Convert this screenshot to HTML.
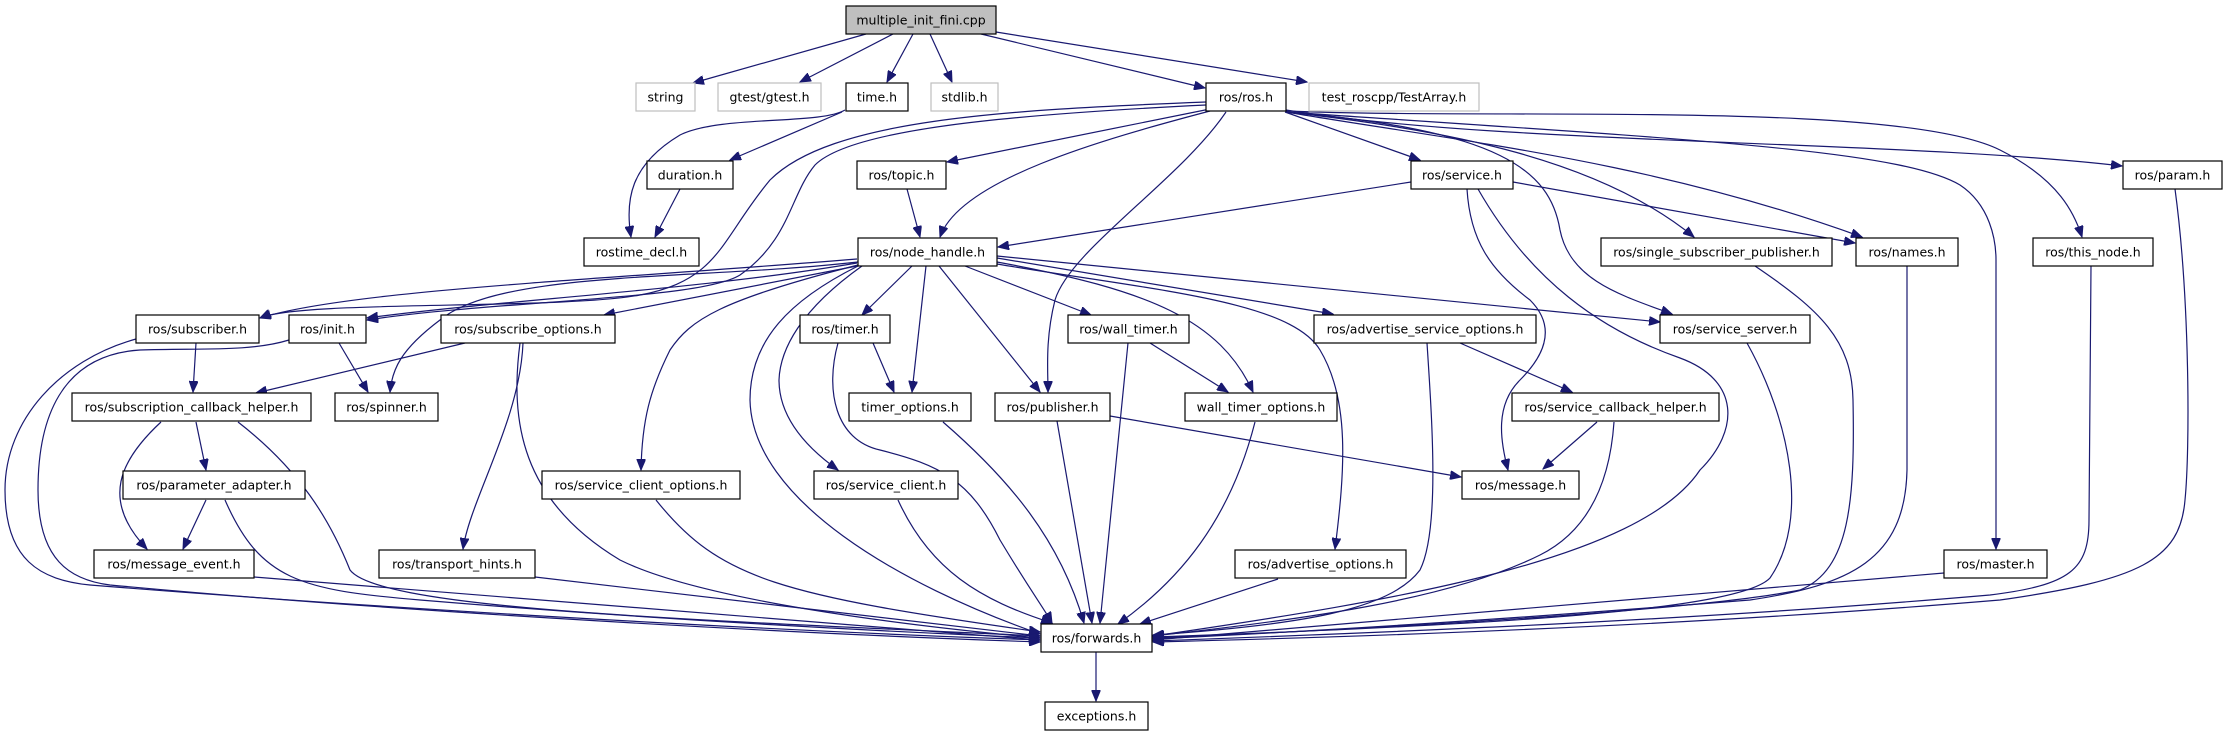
<!DOCTYPE html>
<html><head><meta charset="utf-8"><style>
html,body{margin:0;padding:0;background:#fff;width:2228px;height:736px;overflow:hidden}
svg text{font-family:"DejaVu Sans","Liberation Sans",sans-serif;font-size:12.5px;fill:#000;text-anchor:middle}
.e{fill:none;stroke:#191970;stroke-width:1.2;marker-end:url(#a)}
.n{fill:#fff;stroke:#000;stroke-width:1.2}
.g{fill:#fff;stroke:#bfbfbf;stroke-width:1.2}
</style></head><body>
<svg width="2228" height="736" viewBox="0 0 2228 736" xmlns="http://www.w3.org/2000/svg">
<defs><marker id="a" markerUnits="userSpaceOnUse" markerWidth="12" markerHeight="9" refX="11" refY="4.5" orient="auto"><path d="M0,0 L11,4.5 L0,9 z" fill="#191970" stroke="#191970"/></marker></defs>
<g>
<path class="e" d="M866,34 L693,83"/>
<path class="e" d="M893,34 L800,82"/>
<path class="e" d="M913,34 L887,82"/>
<path class="e" d="M930,34 L952,82"/>
<path class="e" d="M981,34 L1205,88"/>
<path class="e" d="M996,32 L1307,82"/>
<path class="e" d="M845,110 C820,125 720,115 680,135 C630,165 625,200 631,237"/>
<path class="e" d="M842,112 L730,160"/>
<path class="e" d="M680,189 L655,237"/>
<path class="e" d="M1210,109 L947,162"/>
<path class="e" d="M1210,111 C1100,140 960,180 940,237"/>
<path class="e" d="M1411,182 L998,247"/>
<path class="e" d="M907,189 L920,237"/>
<path class="e" d="M1206,102 C1000,110 830,120 770,180 C720,240 720,280 640,295 C560,310 300,300 260,318"/>
<path class="e" d="M1206,105 C1000,115 850,130 815,165 C790,195 790,240 740,275 C700,300 500,300 367,320"/>
<path class="e" d="M1226,112 C1180,180 1070,250 1055,300 C1045,340 1048,370 1048,392"/>
<path class="e" d="M1285,112 L1420,160"/>
<path class="e" d="M1286,110 C1500,145 1900,140 2122,166"/>
<path class="e" d="M1286,111 C1500,120 1900,100 2000,150 C2060,180 2075,215 2082,237"/>
<path class="e" d="M1286,112 C1700,140 1900,150 1960,185 C1990,205 1996,240 1996,260 L1996,549"/>
<path class="e" d="M1286,112 C1450,140 1650,160 1862,237"/>
<path class="e" d="M1286,112 C1450,130 1600,160 1694,237"/>
<path class="e" d="M1286,112 C1500,130 1550,170 1560,230 C1570,280 1620,295 1672,314"/>
<path class="e" d="M1513,182 L1855,243"/>
<path class="e" d="M1467,189 C1470,240 1490,270 1530,300 C1560,330 1540,360 1520,380 C1495,405 1500,440 1508,470"/>
<path class="e" d="M1478,189 C1530,280 1600,330 1680,358 C1740,380 1740,430 1700,470 C1640,560 1400,600 1153,636"/>
<path class="e" d="M912,266 L862,315"/>
<path class="e" d="M926,266 L912,392"/>
<path class="e" d="M939,266 L1040,392"/>
<path class="e" d="M965,266 L1091,315"/>
<path class="e" d="M997,262 C1150,290 1220,320 1253,392"/>
<path class="e" d="M997,264 C1150,290 1290,300 1320,350 C1350,400 1345,470 1335,549"/>
<path class="e" d="M997,258 L1333,314"/>
<path class="e" d="M997,256 L1660,322"/>
<path class="e" d="M858,265 C720,300 690,320 670,350 C650,390 642,420 641,470"/>
<path class="e" d="M858,266 C790,300 750,340 750,400 C752,500 900,585 1040,634"/>
<path class="e" d="M862,266 C800,310 780,350 779,380 C779,420 810,450 838,470"/>
<path class="e" d="M838,343 C825,390 835,440 880,450 C940,465 970,480 1000,540 C1030,590 1045,610 1052,623"/>
<path class="e" d="M873,343 L894,392"/>
<path class="e" d="M523,343 C520,420 470,500 463,549"/>
<path class="e" d="M520,343 C510,420 520,500 620,560 C700,600 900,625 1040,638"/>
<path class="e" d="M858,262 C700,280 500,270 440,320 C400,350 392,370 390,392"/>
<path class="e" d="M339,343 L368,392"/>
<path class="e" d="M857,259 C600,280 350,290 260,318"/>
<path class="e" d="M857,263 C700,290 500,300 367,318"/>
<path class="e" d="M857,266 L604,315"/>
<path class="e" d="M196,343 L193,392"/>
<path class="e" d="M465,343 L256,393"/>
<path class="e" d="M136,339 C60,360 5,420 5,490 C5,560 40,580 90,585 C400,610 800,632 1040,640"/>
<path class="e" d="M289,340 C250,352 200,348 140,350 C60,355 38,420 38,490 C38,560 70,580 110,585 C400,612 800,634 1040,642"/>
<path class="e" d="M196,422 L206,470"/>
<path class="e" d="M161,422 C120,460 100,500 147,549"/>
<path class="e" d="M238,422 C300,470 330,520 350,570 C380,610 700,620 1040,636"/>
<path class="e" d="M206,500 L183,549"/>
<path class="e" d="M225,500 C260,580 300,590 420,600 C600,615 800,628 1040,638"/>
<path class="e" d="M254,577 L1040,640"/>
<path class="e" d="M535,577 L1040,636"/>
<path class="e" d="M656,500 C720,580 780,595 1040,632"/>
<path class="e" d="M898,500 C930,570 980,600 1052,623"/>
<path class="e" d="M943,422 C1010,480 1060,540 1084,623"/>
<path class="e" d="M1057,421 L1092,623"/>
<path class="e" d="M1110,416 L1461,477"/>
<path class="e" d="M1128,343 L1100,623"/>
<path class="e" d="M1150,343 L1228,392"/>
<path class="e" d="M1255,422 C1230,520 1180,580 1118,624"/>
<path class="e" d="M1460,343 L1572,392"/>
<path class="e" d="M1427,343 C1432,420 1440,530 1420,570 C1390,610 1300,625 1153,635"/>
<path class="e" d="M1597,422 L1543,469"/>
<path class="e" d="M1614,422 C1610,480 1590,530 1540,555 C1450,600 1300,620 1153,636"/>
<path class="e" d="M1278,579 L1140,624"/>
<path class="e" d="M1747,343 C1790,420 1810,520 1770,578 C1740,610 1500,625 1153,637"/>
<path class="e" d="M1755,266 C1820,310 1852,340 1853,400 C1855,500 1850,570 1800,590 C1700,610 1400,628 1153,638"/>
<path class="e" d="M1907,266 L1907,470 C1905,560 1850,585 1750,600 C1500,620 1300,632 1153,639"/>
<path class="e" d="M1944,573 L1153,640"/>
<path class="e" d="M2091,266 L2089,520 C2089,570 2070,585 1990,595 C1700,620 1400,632 1153,641"/>
<path class="e" d="M2175,189 C2190,300 2190,450 2185,500 C2180,560 2140,580 2000,600 C1700,625 1400,636 1153,642"/>
<path class="e" d="M1096,652 L1096,701"/>
</g>
<g>
<rect x="846" y="6" width="150" height="28" fill="#bfbfbf" stroke="#000" stroke-width="1.2"/><text x="921" y="24.5">multiple_init_fini.cpp</text>
<rect class="g" x="636" y="83" width="59" height="28"/><text x="665.5" y="101.5">string</text>
<rect class="g" x="718" y="83" width="103" height="28"/><text x="769.5" y="101.5">gtest/gtest.h</text>
<rect class="n" x="846" y="83" width="62" height="28"/><text x="877" y="101.5">time.h</text>
<rect class="g" x="931" y="83" width="67" height="28"/><text x="964.5" y="101.5">stdlib.h</text>
<rect class="n" x="1206" y="83" width="80" height="28"/><text x="1246" y="101.5">ros/ros.h</text>
<rect class="g" x="1309" y="83" width="170" height="28"/><text x="1394" y="101.5">test_roscpp/TestArray.h</text>
<rect class="n" x="647" y="161" width="86" height="28"/><text x="690" y="179.5">duration.h</text>
<rect class="n" x="857" y="161" width="89" height="28"/><text x="901.5" y="179.5">ros/topic.h</text>
<rect class="n" x="1411" y="161" width="102" height="28"/><text x="1462" y="179.5">ros/service.h</text>
<rect class="n" x="2123" y="161" width="99" height="28"/><text x="2172.5" y="179.5">ros/param.h</text>
<rect class="n" x="584" y="238" width="115" height="28"/><text x="641.5" y="256.5">rostime_decl.h</text>
<rect class="n" x="858" y="238" width="139" height="28"/><text x="927.5" y="256.5">ros/node_handle.h</text>
<rect class="n" x="1601" y="238" width="231" height="28"/><text x="1716.5" y="256.5">ros/single_subscriber_publisher.h</text>
<rect class="n" x="1856" y="238" width="102" height="28"/><text x="1907" y="256.5">ros/names.h</text>
<rect class="n" x="2033" y="238" width="120" height="28"/><text x="2093" y="256.5">ros/this_node.h</text>
<rect class="n" x="136" y="315" width="123" height="28"/><text x="197.5" y="333.5">ros/subscriber.h</text>
<rect class="n" x="289" y="315" width="77" height="28"/><text x="327.5" y="333.5">ros/init.h</text>
<rect class="n" x="441" y="315" width="174" height="28"/><text x="528" y="333.5">ros/subscribe_options.h</text>
<rect class="n" x="800" y="315" width="90" height="28"/><text x="845" y="333.5">ros/timer.h</text>
<rect class="n" x="1068" y="315" width="121" height="28"/><text x="1128.5" y="333.5">ros/wall_timer.h</text>
<rect class="n" x="1314" y="315" width="222" height="28"/><text x="1425" y="333.5">ros/advertise_service_options.h</text>
<rect class="n" x="1660" y="315" width="150" height="28"/><text x="1735" y="333.5">ros/service_server.h</text>
<rect class="n" x="72" y="393" width="239" height="28"/><text x="191.5" y="411.5">ros/subscription_callback_helper.h</text>
<rect class="n" x="335" y="393" width="103" height="28"/><text x="386.5" y="411.5">ros/spinner.h</text>
<rect class="n" x="849" y="393" width="122" height="28"/><text x="910" y="411.5">timer_options.h</text>
<rect class="n" x="995" y="393" width="115" height="28"/><text x="1052.5" y="411.5">ros/publisher.h</text>
<rect class="n" x="1185" y="393" width="152" height="28"/><text x="1261" y="411.5">wall_timer_options.h</text>
<rect class="n" x="1512" y="393" width="207" height="28"/><text x="1615.5" y="411.5">ros/service_callback_helper.h</text>
<rect class="n" x="123" y="471" width="182" height="28"/><text x="214" y="489.5">ros/parameter_adapter.h</text>
<rect class="n" x="542" y="471" width="198" height="28"/><text x="641" y="489.5">ros/service_client_options.h</text>
<rect class="n" x="814" y="471" width="144" height="28"/><text x="886" y="489.5">ros/service_client.h</text>
<rect class="n" x="1462" y="471" width="117" height="28"/><text x="1520.5" y="489.5">ros/message.h</text>
<rect class="n" x="94" y="550" width="160" height="28"/><text x="174" y="568.5">ros/message_event.h</text>
<rect class="n" x="379" y="550" width="156" height="28"/><text x="457" y="568.5">ros/transport_hints.h</text>
<rect class="n" x="1235" y="550" width="171" height="28"/><text x="1320.5" y="568.5">ros/advertise_options.h</text>
<rect class="n" x="1944" y="550" width="103" height="28"/><text x="1995.5" y="568.5">ros/master.h</text>
<rect class="n" x="1041" y="624" width="111" height="28"/><text x="1096.5" y="642.5">ros/forwards.h</text>
<rect class="n" x="1045" y="702" width="103" height="28"/><text x="1096.5" y="720.5">exceptions.h</text>
</g>
</svg>
</body></html>
